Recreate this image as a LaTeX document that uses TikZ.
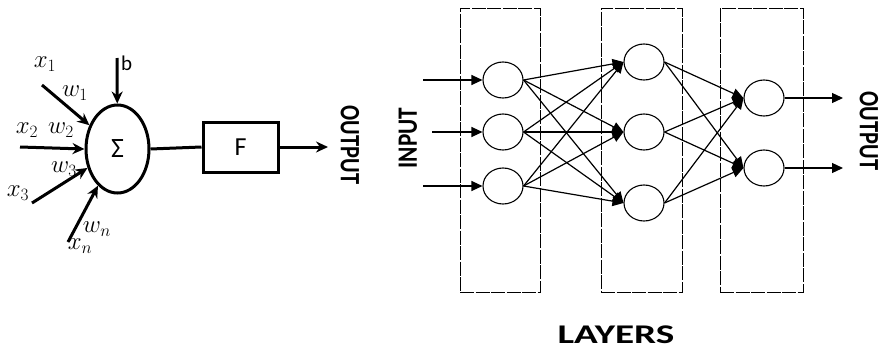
\documentclass[tikz,border=0pt]{standalone}
\usepackage{fontspec}
\setmainfont{Carlito}
\usetikzlibrary{arrows.meta,shapes.geometric}

\begin{document}
\begin{tikzpicture}[x=1pt,y=-1pt,
  thk/.style={line width=3pt,draw=black},
  tk/.style={thk,-{Stealth[length=12pt,width=11pt]}},
  lab/.style={font=\fontsize{24}{24}\selectfont,inner sep=0pt},
  big/.style={font=\fontsize{28}{28}\selectfont\bfseries,inner sep=0pt},
  layerbox/.style={draw,line width=1pt,dash pattern=on 14pt off 1.5pt,minimum width=80pt,minimum height=284pt,inner sep=0pt},
  neuron/.style={ellipse,draw,line width=1.1pt,minimum width=40pt,minimum height=36pt,inner sep=0pt},
  a/.style={line width=1.2pt,-{Triangle[length=11pt,width=10pt]}}]
\useasboundingbox (0,0) rectangle (883,351);
% single neuron
\node[ellipse,thk,minimum width=63pt,minimum height=88pt,inner sep=0pt] (sum) at (117.5,149) {\fontsize{28}{28}\selectfont Σ};
\node[thk,minimum width=75pt,minimum height=50pt,inner sep=0pt] (f) at (240.5,147) {\fontsize{26}{26}\selectfont F};
\coordinate (bias) at (117,58);
\node[font=\fontsize{21}{21}\selectfont,inner sep=0pt,anchor=west] at (121,63) {b};
\coordinate (in1) at (42,85);
\coordinate (in2) at (20,147);
\coordinate (in3) at (32,203);
\coordinate (inn) at (68,242);
\coordinate (out) at (328,147);
\draw[tk] (bias)--(sum);
\draw[tk] (in1)--(sum);
\draw[tk] (in2)--(sum.west);
\draw[tk] (in3)--(sum);
\draw[tk] (inn)--(sum);
\draw[thk] (sum.east)--(f.west);
\draw[tk] (f.east)--(out);
\node[lab] at (45,64) {$x_1$};
\node[lab] at (75,93) {$w_1$};
\node[lab] at (27,130) {$x_2$};
\node[lab] at (61,130) {$w_2$};
\node[lab] at (64,169) {$w_3$};
\node[lab] at (18,193) {$x_3$};
\node[lab] at (97,229) {$w_n$};
\node[lab] at (80,246) {$x_n$};
\node[big,rotate=-90] (outtxt) at (350,145) {\scalebox{0.8}[1]{OUTPUT}};
% network
\node[layerbox] (layer1) at (500,150) {};
\node[layerbox,minimum width=81pt] (layer2) at (641.5,150) {};
\node[layerbox,minimum width=83pt] (layer3) at (761.5,150) {};
\foreach \i/\y in {1/80,2/132,3/186} {
  \node[neuron] (p\i) at (503,\y) {};
  \coordinate (src\i) at (423,\y);
}
\coordinate (src2) at (432,132);
\foreach \i/\y in {1/62,2/132,3/203} \node[neuron] (q\i) at (644,\y) {};
\foreach \i/\y in {1/98,2/168} {
  \node[neuron] (r\i) at (764,\y) {};
  \coordinate (dst\i) at (843,\y);
}
\foreach \i in {1,2,3} {
  \draw[a] (src\i)--(p\i);
  \foreach \j in {1,2,3} \draw[a] (p\i.east)--(q\j.west);
  \foreach \j in {1,2} \draw[a] (q\i.east)--(r\j.west);
}
\foreach \j in {1,2} \draw[a] (r\j)--(dst\j);
\node[big,rotate=90] (intxt) at (408,138) {\scalebox{0.83}[1]{INPUT}};
\node[big,rotate=-90] (outtxt2) at (869,131) {\scalebox{0.8}[1]{OUTPUT}};
\node[font=\fontsize{27}{27}\selectfont\bfseries,inner sep=0pt,anchor=base] (layers) at (616,343) {\scalebox{1.45}[1]{LAYERS}};
\end{tikzpicture}
\end{document}
